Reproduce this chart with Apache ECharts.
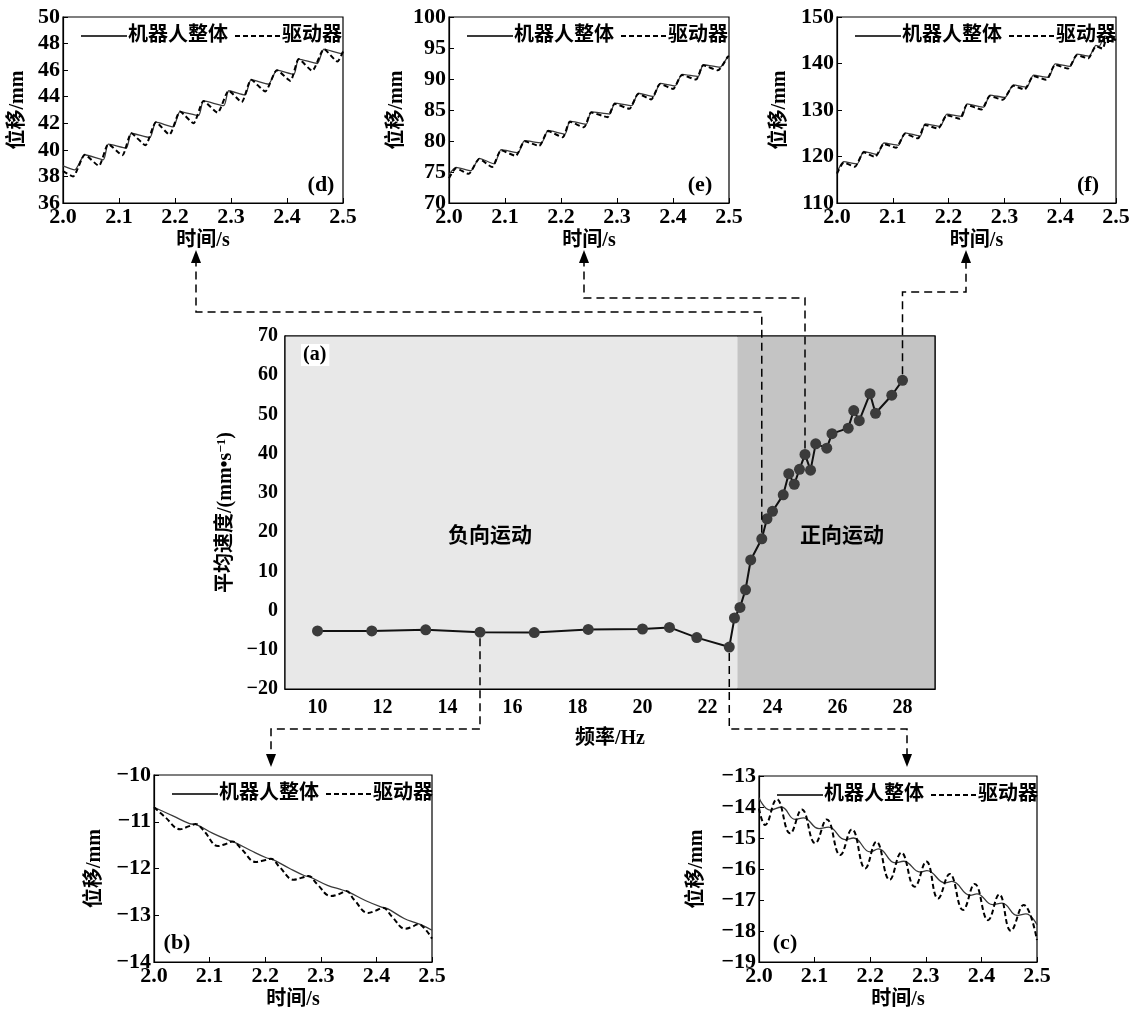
<!DOCTYPE html>
<html><head><meta charset="utf-8">
<script src="https://cdn.jsdelivr.net/npm/echarts@6/dist/echarts.min.js"></script>
<style>html,body{margin:0;padding:0;background:#fff}#c{width:1134px;height:1011px}</style>
</head><body><div id="c"></div>
<script>
// ---------- (a) mean velocity vs frequency ----------
const freq = [10, 11.67, 13.33, 15, 16.67, 18.33, 20, 20.83, 21.67, 22.67, 22.83, 23, 23.17, 23.33, 23.67, 23.83, 24, 24.33, 24.5, 24.67, 24.83, 25, 25.17, 25.33, 25.67, 25.83, 26.33, 26.5, 26.67, 27, 27.17, 27.67, 28];
const meanVelocity = [-5.2, -5.2, -4.9, -5.5, -5.6, -4.8, -4.7, -4.3, -6.9, -9.3, -1.9, 0.8, 5.3, 12.9, 18.3, 23.4, 25.3, 29.5, 34.9, 32.2, 36.0, 39.8, 35.8, 42.5, 41.4, 45.1, 46.5, 51.0, 48.4, 55.3, 50.3, 54.9, 58.7];
const freqTicks = [10, 12, 14, 16, 18, 20, 22, 24, 26, 28];
const forwardStart = 22.92;
const regionNames = ['负向运动', '正向运动'];
const seriesNames = ['机器人整体', '驱动器'];

// ---------- (d) 23.67 Hz ----------
const dBody = [[2.000,38.80],[2.021,38.50],[2.039,39.63],[2.072,39.25],[2.081,40.43],[2.113,40.13],[2.122,41.25],[2.155,40.93],[2.166,42.08],[2.197,41.73],[2.209,42.88],[2.242,42.58],[2.251,43.68],[2.287,43.33],[2.296,44.45],[2.325,44.13],[2.336,45.28],[2.367,44.95],[2.382,46.00],[2.412,45.68],[2.421,46.83],[2.454,46.50],[2.466,47.58],[2.497,47.25],[2.500,47.45]];
const dDrive = [[2.000,38.40],[2.018,38.00],[2.039,39.63],[2.064,38.80],[2.081,40.43],[2.106,39.60],[2.122,41.25],[2.147,40.35],[2.166,42.08],[2.190,41.15],[2.209,42.88],[2.233,42.00],[2.251,43.68],[2.276,42.80],[2.296,44.45],[2.319,43.60],[2.336,45.28],[2.361,44.40],[2.382,46.00],[2.406,45.20],[2.421,46.83],[2.445,45.95],[2.466,47.58],[2.490,46.65],[2.500,47.40]];
// ---------- (e) 25 Hz ----------
const eBody = [[2.000,74.6],[2.0125,75.75],[2.039,75.2],[2.054,77.2],[2.081,76.3],[2.093,78.6],[2.123,78.1],[2.135,80.05],[2.165,79.7],[2.177,81.7],[2.207,81.1],[2.216,83.2],[2.245,82.7],[2.254,84.7],[2.287,84.35],[2.296,86.1],[2.326,85.7],[2.338,87.7],[2.365,87.2],[2.377,89.3],[2.404,88.9],[2.416,90.75],[2.445,90.4],[2.454,92.3],[2.484,91.9],[2.498,93.65],[2.500,93.7]];
const eDrive = [[2.000,74.0],[2.0125,75.6],[2.035,74.7],[2.054,77.1],[2.077,75.8],[2.093,78.5],[2.119,77.6],[2.135,79.95],[2.161,79.2],[2.177,81.6],[2.203,80.6],[2.216,83.1],[2.241,82.2],[2.254,84.6],[2.283,83.85],[2.296,86.0],[2.322,85.2],[2.338,87.6],[2.361,86.7],[2.377,89.2],[2.400,88.4],[2.416,90.65],[2.441,89.9],[2.454,92.2],[2.480,91.4],[2.498,93.6],[2.500,93.7]];
// ---------- (f) 28 Hz ----------
const fBody = [[2.000,116.6],[2.012,118.9],[2.036,118.4],[2.048,121.1],[2.072,120.4],[2.084,122.9],[2.110,122.4],[2.122,125.1],[2.149,124.4],[2.158,127.0],[2.185,126.5],[2.197,129.1],[2.224,128.6],[2.233,131.3],[2.263,130.6],[2.274,133.2],[2.301,132.7],[2.316,135.4],[2.340,134.9],[2.352,137.5],[2.379,137.0],[2.391,139.9],[2.418,139.4],[2.430,142.0],[2.452,141.6],[2.464,143.9],[2.470,143.7],[2.480,145.9],[2.500,145.3]];
const fDrive = [[2.000,116.3],[2.012,118.7],[2.032,117.8],[2.048,120.9],[2.068,119.9],[2.084,122.7],[2.106,121.9],[2.122,124.9],[2.145,123.9],[2.158,126.8],[2.181,126.0],[2.197,128.9],[2.220,128.1],[2.233,131.1],[2.259,130.1],[2.274,133.0],[2.297,132.2],[2.316,135.2],[2.336,134.4],[2.352,137.3],[2.375,136.5],[2.391,139.7],[2.414,138.9],[2.430,141.8],[2.450,141.1],[2.464,143.7],[2.476,143.2],[2.484,145.7],[2.500,145.0]];
// ---------- (b) 15 Hz ----------
const bBody = [[2.000,-10.69],[2.035,-10.88],[2.064,-11.04],[2.076,-11.06],[2.106,-11.25],[2.133,-11.39],[2.145,-11.44],[2.175,-11.62],[2.202,-11.77],[2.214,-11.81],[2.244,-12.00],[2.270,-12.15],[2.282,-12.19],[2.312,-12.36],[2.339,-12.46],[2.351,-12.51],[2.381,-12.69],[2.408,-12.82],[2.420,-12.86],[2.450,-13.07],[2.470,-13.16],[2.482,-13.21],[2.500,-13.32]];
const bDrive = [[2.000,-10.69],[2.020,-10.90],[2.047,-11.16],[2.062,-11.10],[2.075,-11.05],[2.090,-11.20],[2.115,-11.52],[2.128,-11.48],[2.141,-11.42],[2.157,-11.58],[2.183,-11.86],[2.197,-11.83],[2.210,-11.79],[2.226,-11.97],[2.251,-12.24],[2.265,-12.20],[2.278,-12.16],[2.293,-12.33],[2.318,-12.59],[2.332,-12.55],[2.346,-12.48],[2.360,-12.67],[2.385,-12.95],[2.399,-12.90],[2.412,-12.84],[2.428,-13.03],[2.452,-13.29],[2.464,-13.25],[2.475,-13.19],[2.488,-13.30],[2.500,-13.50]];
// ---------- (c) 22.67 Hz ----------
const cBody = [[2.000,-13.70],[2.020,-14.10],[2.040,-14.00],[2.065,-14.40],[2.080,-14.35],[2.108,-14.70],[2.125,-14.65],[2.155,-15.05],[2.170,-15.00],[2.200,-15.45],[2.215,-15.35],[2.245,-15.80],[2.260,-15.75],[2.290,-16.10],[2.302,-16.05],[2.335,-16.45],[2.347,-16.40],[2.380,-16.85],[2.392,-16.80],[2.420,-17.15],[2.437,-17.10],[2.465,-17.50],[2.480,-17.45],[2.500,-17.80]];
const cDrive = [[2.000,-14.05],[2.011,-14.58],[2.032,-13.75],[2.056,-14.85],[2.077,-14.08],[2.101,-15.17],[2.122,-14.40],[2.146,-15.55],[2.167,-14.72],[2.191,-15.98],[2.211,-15.12],[2.235,-16.35],[2.256,-15.47],[2.280,-16.57],[2.301,-15.76],[2.322,-16.95],[2.343,-16.16],[2.367,-17.32],[2.388,-16.48],[2.412,-17.65],[2.432,-16.82],[2.453,-17.99],[2.476,-17.16],[2.500,-18.29]];

const FONT = "'Liberation Serif','Noto Sans CJK SC',serif";
const txt = (size) => ({fontFamily: FONT, fontWeight: 'bold', fontSize: size, color: '#000'});
const minus = v => String(v).replace('-', '\u2212');

const chart = echarts.init(document.getElementById('c'), null, {renderer: 'canvas'});

const grids = [
  {left: 285, top: 336, width: 650, height: 353},
  {left: 63, top: 17, width: 280, height: 186},
  {left: 449, top: 17, width: 280, height: 186},
  {left: 837, top: 17, width: 279, height: 186},
  {left: 154, top: 775, width: 278, height: 187},
  {left: 759, top: 776, width: 278, height: 186}
].map(g => Object.assign(g, {show: true, borderColor: '#000', borderWidth: 1.2}));

const sub = [
  {body: dBody, drive: dDrive, min: 36, max: 50, interval: 2, gap: 35, label: '(d)', smooth: 0.2},
  {body: eBody, drive: eDrive, min: 70, max: 100, interval: 5, gap: 42, label: '(e)', smooth: 0.2},
  {body: fBody, drive: fDrive, min: 110, max: 150, interval: 10, gap: 47, label: '(f)', smooth: 0.2},
  {body: bBody, drive: bDrive, min: -14, max: -10, interval: 1, gap: 49, label: '(b)', smooth: 0.4},
  {body: cBody, drive: cDrive, min: -19, max: -13, interval: 1, gap: 52, label: '(c)', smooth: 0.45}
];

const axisLine = {show: true, onZero: false, lineStyle: {color: '#000', width: 1.2}};
const xAxes = [{
  type: 'value', gridIndex: 0, min: 9, max: 29,
  axisLine, axisTick: {inside: true, length: 5, customValues: freqTicks, lineStyle: {color: '#000'}},
  axisLabel: Object.assign({customValues: freqTicks, margin: 9}, txt(20)),
  splitLine: {show: false},
  name: '频率/Hz', nameLocation: 'middle', nameGap: 40, nameTextStyle: txt(20)
}];
const yAxes = [{
  type: 'value', gridIndex: 0, min: -20, max: 70, interval: 10,
  axisLine, axisTick: {inside: true, length: 5, lineStyle: {color: '#000'}},
  axisLabel: Object.assign({formatter: minus, margin: 7}, txt(20)),
  splitLine: {show: false},
  name: '平均速度/(mm\u2022s{sup|\u22121})', nameLocation: 'middle', nameGap: 42,
  nameTextStyle: Object.assign({rich: {sup: Object.assign({verticalAlign: 'top', padding: [0, 0, 9, 0]}, txt(13))}}, txt(20))
}];
const series = [{
  type: 'line', xAxisIndex: 0, yAxisIndex: 0,
  data: freq.map((f, i) => [f, meanVelocity[i]]),
  symbol: 'circle', symbolSize: 11, z: 4,
  itemStyle: {color: '#3b3b3b'}, lineStyle: {color: '#111', width: 2},
  markArea: {silent: true, data: [
    [{xAxis: 9, itemStyle: {color: '#e8e8e8'}}, {xAxis: forwardStart}],
    [{xAxis: forwardStart, itemStyle: {color: '#c4c4c4'}}, {xAxis: 29}]
  ]}
}];
const legends = [];
sub.forEach((s, k) => {
  const gi = k + 1;
  xAxes.push({
    type: 'value', gridIndex: gi, min: 2.0, max: 2.5, interval: 0.1,
    axisLine, axisTick: {inside: true, length: 5, lineStyle: {color: '#000'}},
    axisLabel: Object.assign({formatter: v => v.toFixed(1), margin: 3}, txt(22)),
    splitLine: {show: false},
    name: '时间/s', nameLocation: 'middle', nameGap: 28, nameTextStyle: txt(20)
  });
  yAxes.push({
    type: 'value', gridIndex: gi, min: s.min, max: s.max, interval: s.interval,
    axisLine, axisTick: {inside: true, length: 5, lineStyle: {color: '#000'}},
    axisLabel: Object.assign({formatter: minus, margin: 3}, txt(22)),
    splitLine: {show: false},
    name: '位移/mm', nameLocation: 'middle', nameGap: s.gap, nameTextStyle: txt(20)
  });
  series.push({
    type: 'line', name: seriesNames[0], xAxisIndex: gi, yAxisIndex: gi, data: s.body,
    symbol: 'none', smooth: s.smooth, itemStyle: {color: '#3a3a3a'},
    lineStyle: {color: '#3a3a3a', width: 1.3}, z: 3
  });
  series.push({
    type: 'line', name: seriesNames[1], xAxisIndex: gi, yAxisIndex: gi, data: s.drive,
    symbol: 'none', smooth: s.smooth, itemStyle: {color: '#000'},
    lineStyle: {color: '#000', width: 2, type: [5, 3]}, z: 3
  });
  const g = grids[gi];
  legends.push({
    left: g.left + 12, top: g.top + 4, itemWidth: 46, itemHeight: 12, itemGap: 6,
    selectedMode: false, data: seriesNames,
    itemStyle: {opacity: 0}, lineStyle: {inactiveWidth: 2},
    textStyle: Object.assign({padding: [0, 0, 0, -4]}, txt(20))
  });
});

chart.setOption({
  animation: false,
  backgroundColor: '#fff',
  grid: grids, xAxis: xAxes, yAxis: yAxes, series, legend: legends
});

// ---------- annotations ----------
const P = (x, y) => chart.convertToPixel({xAxisIndex: 0, yAxisIndex: 0}, [x, y]);
const tl = P(9, 70), br = P(29, -20);
const dashStyle = {stroke: '#000', lineWidth: 1.5, lineDash: [8, 5], fill: null};
const graphics = [
  {type: 'rect', z: 10, shape: {x: tl[0], y: tl[1], width: br[0] - tl[0], height: br[1] - tl[1]}, style: {stroke: '#000', lineWidth: 1.2, fill: null}}
];
function up(idx, hy, ax) {
  const p = P(freq[idx], meanVelocity[idx]);
  graphics.push({type: 'polyline', z: 10, shape: {points: [[p[0], p[1] - 6], [p[0], hy], [ax, hy], [ax, 262]]}, style: dashStyle});
  graphics.push({type: 'polygon', z: 10, shape: {points: [[ax, 250], [ax - 5, 263], [ax + 5, 263]]}, style: {fill: '#000'}});
}
function down(idx, hy, ax) {
  const p = P(freq[idx], meanVelocity[idx]);
  graphics.push({type: 'polyline', z: 10, shape: {points: [[p[0], p[1] + 6], [p[0], hy], [ax, hy], [ax, 755]]}, style: dashStyle});
  graphics.push({type: 'polygon', z: 10, shape: {points: [[ax, 767], [ax - 5, 754], [ax + 5, 754]]}, style: {fill: '#000'}});
}
up(14, 312, 196);
up(21, 298, 584);
up(32, 292, 966);
down(3, 729, 271);
down(9, 729, 907);

graphics.push({type: 'text', z: 10, x: 490, y: 537, style: Object.assign({text: regionNames[0], align: 'center', verticalAlign: 'middle'}, txt(21))});
graphics.push({type: 'text', z: 10, x: 842, y: 537, style: Object.assign({text: regionNames[1], align: 'center', verticalAlign: 'middle'}, txt(21))});
graphics.push({type: 'text', z: 10, x: 301, y: 344, style: Object.assign({text: '(a)', backgroundColor: '#fff', padding: [1, 3, 1, 2]}, txt(20))});
const panelPos = [[321, 185], [700, 185], [1088, 185], [177, 943], [785, 943]];
sub.forEach((s, k) => {
  graphics.push({type: 'text', z: 10, x: panelPos[k][0], y: panelPos[k][1], style: Object.assign({text: s.label, align: 'center', verticalAlign: 'middle'}, txt(22))});
});
chart.setOption({graphic: graphics});
</script>
</body></html>
